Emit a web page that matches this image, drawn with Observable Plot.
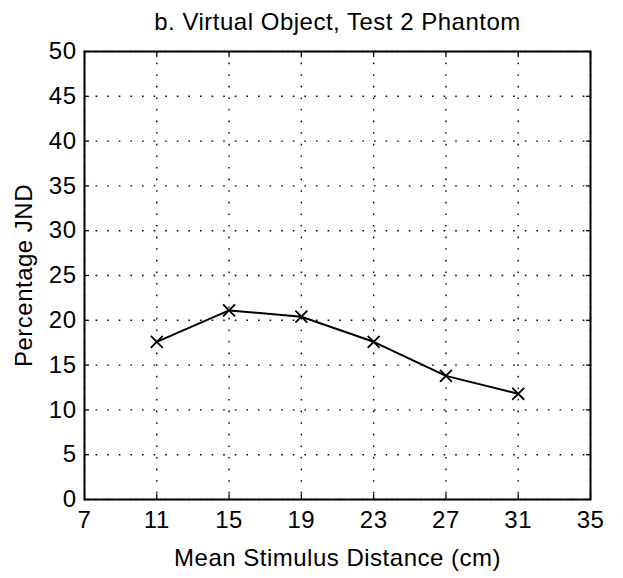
<!DOCTYPE html>
<html><head><meta charset="utf-8">
<script src="https://cdn.jsdelivr.net/npm/d3@7"></script>
<script src="https://cdn.jsdelivr.net/npm/@observablehq/plot@0.6"></script>
<style>body{margin:0;background:#fff} svg text{letter-spacing:0.5px}</style>
</head><body><div id="chart"></div>
<script>
const titleText = "b. Virtual Object, Test 2 Phantom";
const xLabel = "Mean Stimulus Distance (cm)";
const yLabel = "Percentage JND";
const distances = [11, 15, 19, 23, 27, 31];
const jnd = [17.6, 21.1, 20.4, 17.6, 13.8, 11.8];
const xTicks = [7, 11, 15, 19, 23, 27, 31, 35];
const yTicks = [0, 5, 10, 15, 20, 25, 30, 35, 40, 45, 50];
const xDomain = [7, 35];
const yDomain = [0, 50];

const data = distances.map((d, i) => ({distance: d, jnd: jnd[i]}));
const font = "'Liberation Sans', Arial, Helvetica, sans-serif";

const chart = Plot.plot({
  width: 623, height: 578,
  marginLeft: 84, marginRight: 33, marginTop: 51, marginBottom: 79,
  style: {fontFamily: font, fontSize: "24px", background: "white", color: "black"},
  x: {domain: xDomain},
  y: {domain: yDomain},
  marks: [
    Plot.gridX(xTicks, {stroke: "black", strokeOpacity: 1, strokeDasharray: "1.6,10", strokeWidth: 1.4}),
    Plot.gridY(yTicks, {stroke: "black", strokeOpacity: 1, strokeDasharray: "1.6,10", strokeWidth: 1.4}),
    Plot.axisX(xTicks, {anchor: "bottom", tickSize: 0, tickPadding: 11, label: xLabel, labelAnchor: "center", labelArrow: "none", labelOffset: 66}),
    Plot.axisX(xTicks, {anchor: "bottom", tickSize: -5, fill: "none", label: null, strokeWidth: 1.3}),
    Plot.axisX(xTicks, {anchor: "top", tickSize: -5, fill: "none", label: null, strokeWidth: 1.3}),
    Plot.axisY(yTicks, {anchor: "left", tickSize: 0, tickPadding: 8, label: yLabel, labelAnchor: "center", labelArrow: "none", labelOffset: 70}),
    Plot.axisY(yTicks, {anchor: "left", tickSize: -5, fill: "none", label: null, strokeWidth: 1.3}),
    Plot.axisY(yTicks, {anchor: "right", tickSize: -5, fill: "none", label: null, strokeWidth: 1.3}),
    Plot.frame({stroke: "black", strokeWidth: 2}),
    Plot.line(data, {x: "distance", y: "jnd", stroke: "black", strokeWidth: 2}),
    Plot.dot(data, {x: "distance", y: "jnd", symbol: "times", r: 5.5, stroke: "black", strokeWidth: 1.8}),
    Plot.text([titleText], {text: d => d, frameAnchor: "top", lineAnchor: "bottom", dy: -22, fontSize: 24, fill: "black"})
  ]
});
document.getElementById("chart").appendChild(chart);
</script>
</body></html>
